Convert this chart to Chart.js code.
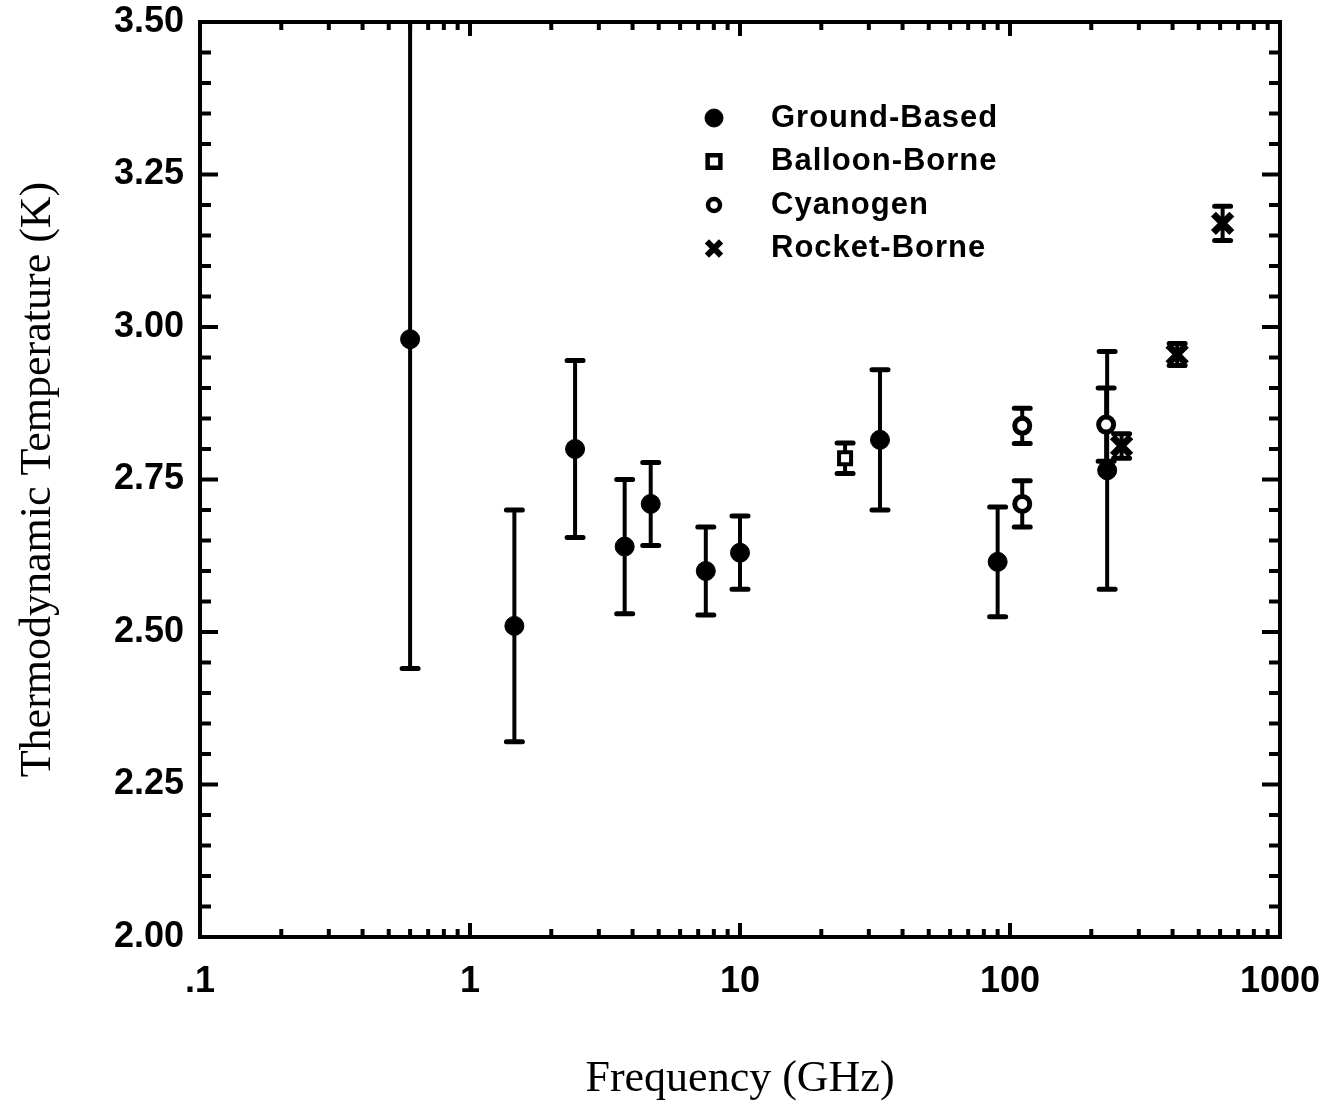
<!DOCTYPE html>
<html>
<head>
<meta charset="utf-8">
<title>Thermodynamic Temperature vs Frequency</title>
<script src="https://cdn.jsdelivr.net/npm/chart.js@4.4.1/dist/chart.umd.min.js"></script>
<style>
  html, body { margin: 0; padding: 0; background: #fff; }
  canvas { display: block; }
</style>
</head>
<body>
<canvas id="cmbChart" width="1339" height="1107"></canvas>
<script>
// frequency in GHz, temperature in K, symmetric 1-sigma error in K
var groundFreq = [0.6, 1.46, 2.45, 3.74, 4.67, 7.47, 10, 33, 90, 229];
var groundTemp = [2.98, 2.51, 2.80, 2.64, 2.71, 2.60, 2.63, 2.815, 2.615, 2.765];
var groundErr  = [0.54, 0.19, 0.145, 0.11, 0.068, 0.072, 0.06, 0.115, 0.09, 0.195];

var balloonFreq = [24.5];
var balloonTemp = [2.785];
var balloonErr  = [0.025];

var cyanFreq = [111, 111, 227];
var cyanTemp = [2.838, 2.71, 2.84];
var cyanErr  = [0.029, 0.038, 0.06];

var rocketFreq = [259, 416, 613];
var rocketTemp = [2.805, 2.955, 3.17];
var rocketErr  = [0.02, 0.018, 0.028];

var seriesNames = ['Ground-Based', 'Balloon-Borne', 'Cyanogen', 'Rocket-Borne'];

var xTickValues = [0.1, 1, 10, 100, 1000];
var xTickLabels = ['.1', '1', '10', '100', '1000'];
var yTickValues = [2.00, 2.25, 2.50, 2.75, 3.00, 3.25, 3.50];
var yTickLabels = ['2.00', '2.25', '2.50', '2.75', '3.00', '3.25', '3.50'];

function points(freq, temp, err) {
  return freq.map(function(f, i) {
    return {x: f, y: temp[i], err: err[i]};
  });
}

function findLabel(vals, labels, v) {
  for (var i = 0; i < vals.length; i++) {
    if (Math.abs(vals[i] - v) < 1e-6 * Math.max(1, vals[i])) return labels[i];
  }
  return '';
}

var tickFont = {family: '"Liberation Sans", Arial, sans-serif', size: 36, weight: 'bold'};
var titleFont = {family: '"Liberation Serif", "Times New Roman", serif', size: 44};

// error bars go under the markers
var errorBars = {
  id: 'errorBars',
  beforeDatasetsDraw: function(chart) {
    var ctx = chart.ctx, a = chart.chartArea;
    var x = chart.scales.x, y = chart.scales.y;
    ctx.save();
    ctx.beginPath();
    ctx.rect(a.left, a.top, a.right - a.left, a.bottom - a.top);
    ctx.clip();
    ctx.strokeStyle = '#000';
    chart.data.datasets.forEach(function(ds) {
      ds.data.forEach(function(p) {
        var px = x.getPixelForValue(p.x);
        var top = y.getPixelForValue(p.y + p.err);
        var bot = y.getPixelForValue(p.y - p.err);
        ctx.lineWidth = 4;
        ctx.lineCap = 'butt';
        ctx.beginPath();
        ctx.moveTo(px, top);
        ctx.lineTo(px, bot);
        ctx.stroke();
        ctx.lineWidth = 5;
        ctx.lineCap = 'round';
        ctx.beginPath();
        ctx.moveTo(px - 8, top);
        ctx.lineTo(px + 8, top);
        ctx.moveTo(px - 8, bot);
        ctx.lineTo(px + 8, bot);
        ctx.stroke();
      });
    });
    ctx.restore();
  }
};

// box with inward ticks on all four sides
var frame = {
  id: 'frame',
  afterDatasetsDraw: function(chart) {
    var ctx = chart.ctx, a = chart.chartArea;
    var x = chart.scales.x, y = chart.scales.y;
    ctx.save();
    ctx.strokeStyle = '#000';
    ctx.lineWidth = 4;
    ctx.lineCap = 'butt';
    ctx.beginPath();
    x.ticks.forEach(function(t) {
      var px = x.getPixelForValue(t.value);
      var major = findLabel(xTickValues, xTickLabels, t.value) !== '';
      var len = major ? 14 : 8;
      ctx.moveTo(px, a.bottom); ctx.lineTo(px, a.bottom - len);
      ctx.moveTo(px, a.top); ctx.lineTo(px, a.top + len);
    });
    y.ticks.forEach(function(t) {
      var py = y.getPixelForValue(t.value);
      var major = findLabel(yTickValues, yTickLabels, t.value) !== '';
      var len = major ? 18 : 11;
      ctx.moveTo(a.left, py); ctx.lineTo(a.left + len, py);
      ctx.moveTo(a.right, py); ctx.lineTo(a.right - len, py);
    });
    ctx.stroke();
    ctx.strokeRect(a.left, a.top, a.right - a.left, a.bottom - a.top);
    ctx.restore();
  }
};

var legendBox = {
  id: 'legendBox',
  afterDraw: function(chart) {
    var ctx = chart.ctx, a = chart.chartArea;
    var mx = a.left + 514, tx = a.left + 571;
    ctx.save();
    ctx.font = 'bold 31px "Liberation Sans", Arial, sans-serif';
    ctx.letterSpacing = '1px';
    ctx.textBaseline = 'middle';
    chart.data.datasets.forEach(function(ds, i) {
      var ly = a.top + 96 + i * 43.5;
      ctx.fillStyle = ds.backgroundColor;
      ctx.strokeStyle = ds.borderColor;
      ctx.lineWidth = ds.legendBorder;
      Chart.helpers.drawPoint(ctx, {pointStyle: ds.pointStyle, radius: ds.legendRadius, rotation: 0, borderWidth: ds.legendBorder}, mx, ly);
      ctx.fillStyle = '#000';
      ctx.fillText(ds.label, tx, ly);
    });
    ctx.restore();
  }
};

function noPadding(s) {
  s.paddingTop = 0;
  s.paddingBottom = 0;
  s.paddingLeft = 0;
  s.paddingRight = 0;
}

new Chart(document.getElementById('cmbChart'), {
  type: 'scatter',
  data: {
    datasets: [{
      label: seriesNames[0],
      data: points(groundFreq, groundTemp, groundErr),
      pointStyle: 'circle',
      pointRadius: 9.5,
      backgroundColor: '#000',
      borderColor: '#000',
      borderWidth: 1,
      legendRadius: 9,
      legendBorder: 1
    }, {
      label: seriesNames[1],
      data: points(balloonFreq, balloonTemp, balloonErr),
      pointStyle: 'rect',
      pointRadius: 8.5,
      backgroundColor: '#fff',
      borderColor: '#000',
      borderWidth: 4,
      legendRadius: 9,
      legendBorder: 4.5
    }, {
      label: seriesNames[2],
      data: points(cyanFreq, cyanTemp, cyanErr),
      pointStyle: 'circle',
      pointRadius: 7.5,
      backgroundColor: '#fff',
      borderColor: '#000',
      borderWidth: 5,
      legendRadius: 6,
      legendBorder: 4.5
    }, {
      label: seriesNames[3],
      data: points(rocketFreq, rocketTemp, rocketErr),
      pointStyle: 'crossRot',
      pointRadius: 13,
      backgroundColor: '#000',
      borderColor: '#000',
      borderWidth: 7,
      legendRadius: 10,
      legendBorder: 6
    }]
  },
  options: {
    responsive: false,
    animation: false,
    devicePixelRatio: 1,
    events: [],
    layout: {padding: {top: 22, right: 59, bottom: 0, left: 0}},
    plugins: {
      legend: {display: false},
      tooltip: {enabled: false}
    },
    scales: {
      x: {
        type: 'logarithmic',
        position: 'bottom',
        min: 0.1,
        max: 1000,
        grid: {display: false},
        border: {display: false},
        afterFit: function(s) { s.height = 170; noPadding(s); },
        afterBuildTicks: function(s) {
          var t = [];
          for (var e = -1; e < 3; e++) {
            for (var m = 1; m < 10; m++) t.push({value: +(m * Math.pow(10, e)).toPrecision(6)});
          }
          t.push({value: 1000});
          s.ticks = t;
        },
        ticks: {
          autoSkip: false,
          maxRotation: 0,
          padding: 15,
          color: '#000',
          font: tickFont,
          callback: function(v) { return findLabel(xTickValues, xTickLabels, v); }
        },
        title: {
          display: true,
          text: 'Frequency (GHz)',
          color: '#000',
          font: titleFont,
          padding: {top: 0, bottom: 1}
        }
      },
      y: {
        type: 'linear',
        min: 2.0,
        max: 3.5,
        grid: {display: false},
        border: {display: false},
        afterFit: function(s) { s.width = 200; noPadding(s); },
        afterBuildTicks: function(s) {
          var t = [];
          for (var k = 0; k <= 30; k++) t.push({value: Math.round((2 + k * 0.05) * 100) / 100});
          s.ticks = t;
        },
        ticks: {
          autoSkip: false,
          padding: 8,
          color: '#000',
          font: tickFont,
          callback: function(v) { return findLabel(yTickValues, yTickLabels, v); }
        },
        title: {
          display: true,
          text: 'Thermodynamic Temperature (K)',
          color: '#000',
          font: titleFont,
          padding: {top: 12, bottom: 0}
        }
      }
    }
  },
  plugins: [errorBars, frame, legendBox]
});
</script>
</body>
</html>
